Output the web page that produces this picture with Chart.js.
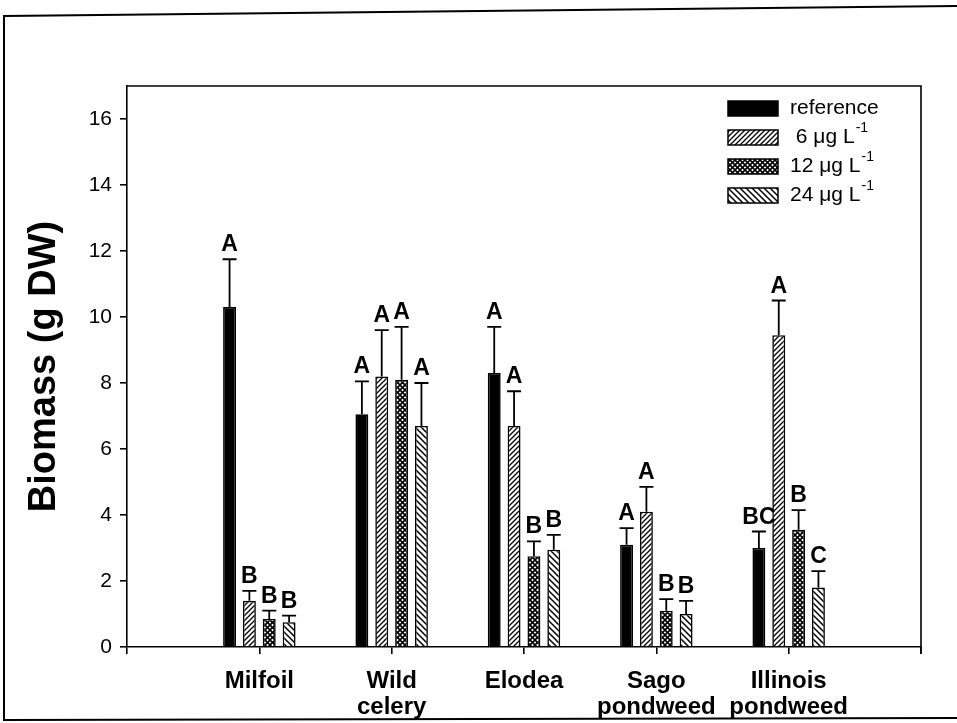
<!DOCTYPE html>
<html lang="en">
<head>
    <meta charset="UTF-8">
    <title>Biomass by species and dose</title>
    <script src="https://cdn.jsdelivr.net/npm/chart.js"></script>
    <style>
        body { margin: 0; background: #fff; }
        canvas { display: block; }
    </style>
</head>
<body>
    <canvas id="chart" width="957" height="723"></canvas>

    <script>
        // categories along the x axis (arrays = two-line labels)
        var species = ['Milfoil', ['Wild', 'celery'], 'Elodea', ['Sago', 'pondweed'], ['Illinois', 'pondweed']];
        var seriesNames = ['reference', ' 6 \u03bcg L', '12 \u03bcg L', '24 \u03bcg L'];

        // mean biomass (g DW)
        var reference = [10.3, 7.05, 8.3, 3.1, 3.0];
        var dose6     = [1.4, 8.2, 6.7, 4.1, 9.45];
        var dose12    = [0.85, 8.1, 2.75, 1.1, 3.55];
        var dose24    = [0.75, 6.7, 2.95, 1.0, 1.8];

        // standard errors (upper whisker only)
        var refErr    = [1.45, 1.0, 1.4, 0.5, 0.5];
        var dose6Err  = [0.3, 1.4, 1.05, 0.75, 1.05];
        var dose12Err = [0.25, 1.6, 0.45, 0.35, 0.6];
        var dose24Err = [0.2, 1.3, 0.45, 0.4, 0.5];

        // significance letters
        var refLetters    = ['A', 'A', 'A', 'A', 'BC'];
        var dose6Letters  = ['B', 'A', 'A', 'A', 'A'];
        var dose12Letters = ['B', 'A', 'B', 'B', 'B'];
        var dose24Letters = ['B', 'A', 'B', 'B', 'C'];

        var FONT = '"Liberation Sans", Arial, Helvetica, sans-serif';

        // pad with an empty slot on each side so the groups sit at 1..5 on a 0..6 axis
        function pad(arr) { return [null].concat(arr, [null]); }

        function hatch(size, dirs, lw) {
            var c = document.createElement('canvas');
            c.width = size; c.height = size;
            var g = c.getContext('2d');
            g.fillStyle = '#fff';
            g.fillRect(0, 0, size, size);
            g.strokeStyle = '#000';
            g.lineWidth = lw;
            dirs.forEach(function (d) {
                g.beginPath();
                if (d === '/') {
                    g.moveTo(-1, size + 1); g.lineTo(size + 1, -1);
                    g.moveTo(-1, 1); g.lineTo(1, -1);
                    g.moveTo(size - 1, size + 1); g.lineTo(size + 1, size - 1);
                } else {
                    g.moveTo(-1, -1); g.lineTo(size + 1, size + 1);
                    g.moveTo(size - 1, -1); g.lineTo(size + 1, 1);
                    g.moveTo(-1, size - 1); g.lineTo(1, size + 1);
                }
                g.stroke();
            });
            return g.createPattern(c, 'repeat');
        }

        var ctx = document.getElementById('chart').getContext('2d');
        var fills = ['#000', hatch(5, ['/'], 1.3), hatch(5, ['/', '\\'], 1.6), hatch(6, ['\\'], 1.5)];
        var errs = [refErr, dose6Err, dose12Err, dose24Err];
        var letters = [refLetters, dose6Letters, dose12Letters, dose24Letters];

        var extras = {
            id: 'extras',
            beforeDraw: function (chart) {
                var c = chart.ctx;
                c.save();
                c.fillStyle = '#fff';
                c.fillRect(0, 0, chart.width, chart.height);
                // outer figure frame
                c.strokeStyle = '#000';
                c.lineWidth = 2;
                c.beginPath();
                c.moveTo(957, 6);
                c.lineTo(4, 16);
                c.lineTo(4, 720);
                c.lineTo(957, 718);
                c.stroke();
                c.restore();
            },
            afterDatasetsDraw: function (chart) {
                var c = chart.ctx;
                var a = chart.chartArea;
                var y = chart.scales.y;
                c.save();
                // top and right of the plot box
                c.strokeStyle = '#000';
                c.lineWidth = 1.6;
                c.beginPath();
                c.moveTo(a.left, a.top);
                c.lineTo(a.right, a.top);
                c.lineTo(a.right, a.bottom + 7);
                c.stroke();

                // error bars and letters
                c.lineWidth = 1.8;
                c.font = 'bold 23px ' + FONT;
                c.textAlign = 'center';
                c.textBaseline = 'alphabetic';
                c.fillStyle = '#000';
                chart.data.datasets.forEach(function (ds, i) {
                    var meta = chart.getDatasetMeta(i);
                    meta.data.forEach(function (bar, j) {
                        var v = ds.data[j];
                        if (v === null) return;
                        var top = y.getPixelForValue(v + errs[i][j - 1]);
                        c.beginPath();
                        c.moveTo(bar.x, bar.y);
                        c.lineTo(bar.x, top);
                        c.moveTo(bar.x - 7, top);
                        c.lineTo(bar.x + 7, top);
                        c.stroke();
                        c.fillText(letters[i][j - 1], bar.x, top - 8);
                    });
                });

                // legend
                var lx = 728, rows = [108, 137, 166, 195];
                c.lineWidth = 1.5;
                c.textAlign = 'left';
                c.textBaseline = 'middle';
                seriesNames.forEach(function (name, i) {
                    var ry = rows[i];
                    c.fillStyle = fills[i];
                    c.fillRect(lx, ry - 7, 50, 15);
                    c.strokeRect(lx, ry - 7, 50, 15);
                    c.fillStyle = '#000';
                    c.font = '21px ' + FONT;
                    c.fillText(name, 790, ry);
                    if (i > 0) {
                        var w = c.measureText(name).width;
                        c.font = '14px ' + FONT;
                        c.fillText('-1', 790 + w + 1, ry - 9);
                    }
                });
                c.restore();
            }
        };

        new Chart(ctx, {
            type: 'bar',
            data: {
                labels: pad(species).map(function (l) { return l === null ? '' : l; }),
                datasets: [reference, dose6, dose12, dose24].map(function (vals, i) {
                    return {
                        label: seriesNames[i],
                        data: pad(vals),
                        backgroundColor: fills[i],
                        borderColor: '#000',
                        borderWidth: 1.6,
                        barPercentage: 0.65,
                        categoryPercentage: 0.6
                    };
                })
            },
            options: {
                responsive: false,
                animation: false,
                layout: { padding: { left: 0, top: 86, right: 36, bottom: 0 } },
                plugins: { legend: { display: false }, tooltip: { enabled: false } },
                scales: {
                    x: {
                        offset: false,
                        afterFit: function (s) { s.height = 76; },
                        grid: { offset: false, drawOnChartArea: false, tickLength: 7, color: '#000', lineWidth: 1.6 },
                        border: { color: '#000', width: 1.6 },
                        ticks: {
                            color: '#000', autoSkip: false, maxRotation: 0, padding: 14,
                            font: { family: FONT, size: 24, weight: 'bold', lineHeight: 1.1 }
                        }
                    },
                    y: {
                        min: 0,
                        max: 17,
                        afterFit: function (s) { s.width = 127; },
                        grid: { drawOnChartArea: false, tickLength: 7, color: '#000', lineWidth: 1.6 },
                        border: { color: '#000', width: 1.6 },
                        ticks: {
                            stepSize: 2, includeBounds: false, color: '#000', padding: 8,
                            font: { family: FONT, size: 21 }
                        },
                        title: {
                            display: true,
                            text: 'Biomass (g DW)',
                            color: '#000',
                            padding: { top: 22, bottom: 0 },
                            font: { family: FONT, size: 38, weight: 'bold' }
                        }
                    }
                }
            },
            plugins: [extras]
        });
    </script>
</body>
</html>
